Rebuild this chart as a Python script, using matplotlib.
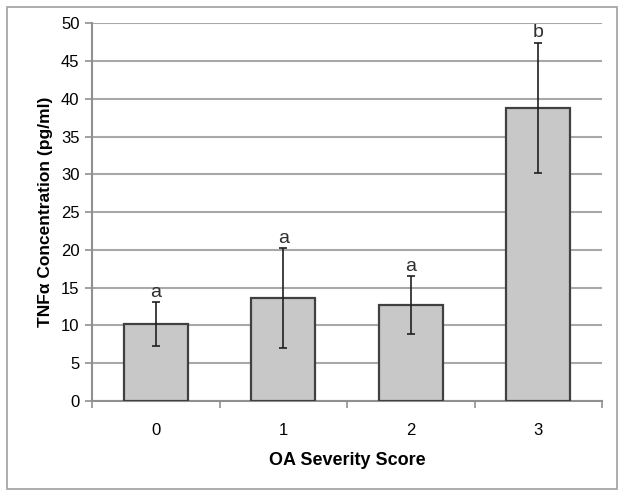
import numpy as np
import matplotlib
matplotlib.use('Agg')
import matplotlib.pyplot as plt
from matplotlib.patches import Rectangle

plt.rcParams['font.family'] = ['Liberation Sans', 'DejaVu Sans']

scores = ['0', '1', '2', '3']
tnf_mean = [10.2, 13.6, 12.7, 38.8]
tnf_err = [2.9, 6.6, 3.8, 8.6]
letters = ['a', 'a', 'a', 'b']

fig = plt.figure(figsize=(6.24, 4.97), dpi=100)
# outer frame like the excel chart area
fig.patches.append(Rectangle((7 / 624, 1 - 489 / 497), 610 / 624, 482 / 497,
                             transform=fig.transFigure, fill=False,
                             edgecolor='#a0a0a0', lw=1.2))

ax = fig.add_axes([92 / 624, 1 - 401 / 497, 510 / 624, 377.7 / 497])
x = np.arange(len(scores))
ax.bar(x, tnf_mean, width=0.5, color='#c8c8c8', edgecolor='#404040',
       linewidth=1.6, zorder=3)
ax.errorbar(x, tnf_mean, yerr=tnf_err, fmt='none', ecolor='#202020',
            elinewidth=1.2, capsize=3, capthick=1.2, zorder=4)
for xi, m, e, lab in zip(x, tnf_mean, tnf_err, letters):
    ax.text(xi, m + e + 0.2, lab, ha='center', va='bottom', fontsize=14,
            color='#303030', zorder=5)

ax.set_xlim(-0.5, 3.5)
ax.set_ylim(0, 50)
ax.set_yticks(np.arange(0, 51, 5))
ax.set_xticks(x)
ax.set_xticklabels(scores)
ax.set_xticks(np.arange(-0.5, 4, 1), minor=True)
ax.tick_params(axis='x', which='major', length=0, pad=16, labelsize=12)
ax.tick_params(axis='x', which='minor', length=5, color='#909090', width=1.2)
ax.tick_params(axis='y', length=5, color='#909090', width=1.2, labelsize=12, pad=4)
ax.yaxis.grid(True, color='#a8a8a8', lw=1.5, zorder=0)
for s in ['top', 'right']:
    ax.spines[s].set_visible(False)
for s in ['left', 'bottom']:
    ax.spines[s].set_color('#909090')
    ax.spines[s].set_linewidth(1.5)

ax.set_xlabel('OA Severity Score', fontsize=13, fontweight='bold', labelpad=10)
ax.set_ylabel('TNFα Concentration (pg/ml)', fontsize=12.5, fontweight='bold', labelpad=6)

fig.savefig('out.png', dpi=100)
